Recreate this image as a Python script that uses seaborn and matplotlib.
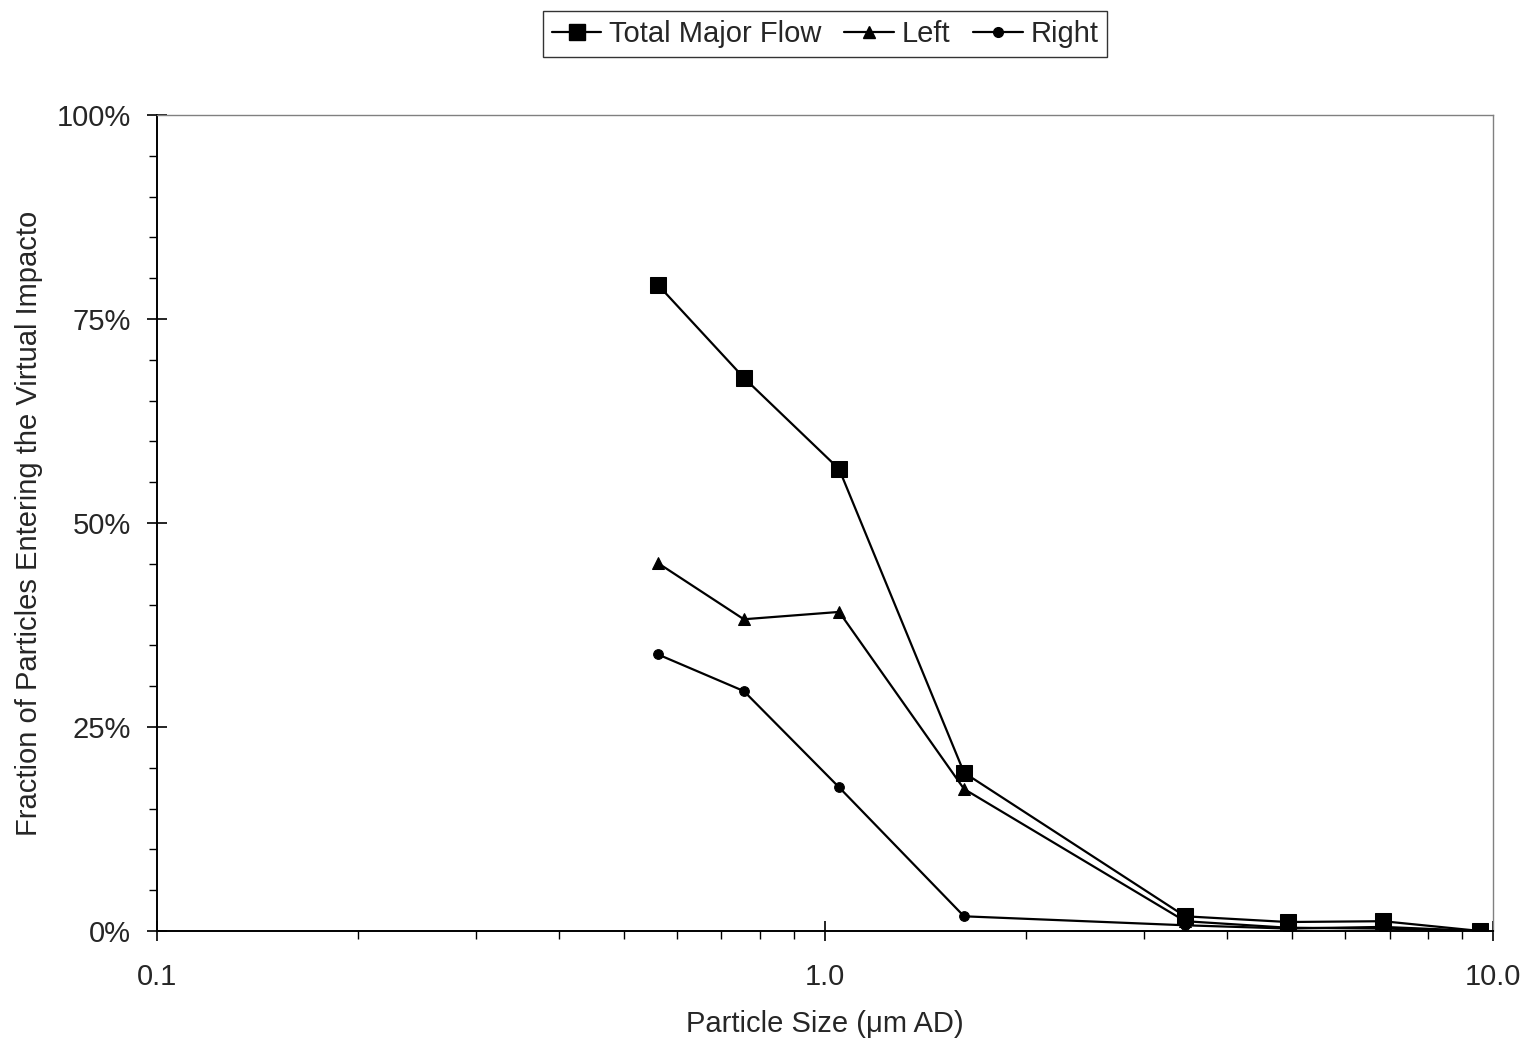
import matplotlib
matplotlib.use("Agg")
import matplotlib.pyplot as plt
import matplotlib.ticker as mticker
from matplotlib.lines import Line2D
import numpy as np
import pandas as pd
import seaborn as sns

# Particle sizes (um AD) and the fraction of particles in each flow
particle_size = [0.562, 0.756, 1.05, 1.615, 3.46, 4.93, 6.84, 9.57]
total_major_flow = [0.792, 0.678, 0.566, 0.194, 0.018, 0.011, 0.012, 0.000]
left_flow = [0.451, 0.382, 0.391, 0.174, 0.012, 0.004, 0.003, 0.000]
right_flow = [0.339, 0.294, 0.176, 0.018, 0.007, 0.003, 0.005, 0.000]

series_names = ["Total Major Flow", "Left", "Right"]
series_markers = {"Total Major Flow": "s", "Left": "^", "Right": "o"}
series_msize = {"Total Major Flow": 12, "Left": 9, "Right": 7}

df = pd.DataFrame({
    "size": particle_size * 3,
    "fraction": total_major_flow + left_flow + right_flow,
    "series": np.repeat(series_names, len(particle_size)),
})

sns.set_theme(style="white")
plt.rcParams["font.family"] = ["Liberation Sans", "DejaVu Sans"]

FS = 21

fig = plt.figure(figsize=(15.31, 10.47), dpi=100)
ax = fig.add_axes([0.1025, 0.1108, 0.8727, 0.7794])

for name in series_names:
    sub = df[df["series"] == name]
    sns.lineplot(data=sub, x="size", y="fraction", ax=ax, color="black",
                 marker=series_markers[name], markersize=series_msize[name],
                 markeredgecolor="black", linewidth=1.6, legend=False,
                 sort=False, estimator=None)

ax.set_xscale("log")
ax.set_xlim(0.1, 10)
ax.set_ylim(0, 1)

ax.xaxis.set_major_locator(mticker.FixedLocator([0.1, 1.0, 10.0]))
ax.xaxis.set_major_formatter(mticker.FixedFormatter(["0.1", "1.0", "10.0"]))
ax.xaxis.set_minor_locator(mticker.LogLocator(base=10, subs=np.arange(2, 10)))
ax.xaxis.set_minor_formatter(mticker.NullFormatter())

ax.yaxis.set_major_locator(mticker.MultipleLocator(0.25))
ax.yaxis.set_major_formatter(mticker.PercentFormatter(1.0, decimals=0))
ax.yaxis.set_minor_locator(mticker.MultipleLocator(0.05))

ax.tick_params(axis="both", which="major", direction="inout", length=14,
               width=1.2, color="black", labelsize=FS,
               bottom=True, left=True)
ax.tick_params(axis="y", which="major", pad=12)
ax.tick_params(axis="x", which="major", pad=16)
ax.tick_params(axis="both", which="minor", direction="out", length=6,
               width=1.0, color="black", bottom=True, left=True)

for side in ["left", "bottom"]:
    ax.spines[side].set_color("black")
    ax.spines[side].set_linewidth(1.4)
for side in ["top", "right"]:
    ax.spines[side].set_color("#808080")
    ax.spines[side].set_linewidth(1.0)

ax.set_xlabel("Particle Size (\u03bcm AD)", fontsize=FS)
ax.set_ylabel("Fraction of Particles Entering the Virtual Impacto",
              fontsize=FS)
ax.xaxis.set_label_coords(0.5, -0.097)
ax.yaxis.set_label_coords(-0.085, 0.5)

handles = [Line2D([0], [0], color="black", linewidth=1.6,
                  marker=series_markers[n], markersize=series_msize[n])
           for n in series_names]
leg = fig.legend(handles, series_names, loc="center",
                 bbox_to_anchor=(825 / 1531, 1 - 34 / 1047), ncol=3,
                 fontsize=FS, frameon=True, fancybox=False,
                 edgecolor="black", handlelength=1.7, handletextpad=0.25,
                 columnspacing=0.8, borderpad=0.3, borderaxespad=0)
leg.get_frame().set_linewidth(1.0)

fig.savefig("out.png", dpi=100, facecolor="white")
